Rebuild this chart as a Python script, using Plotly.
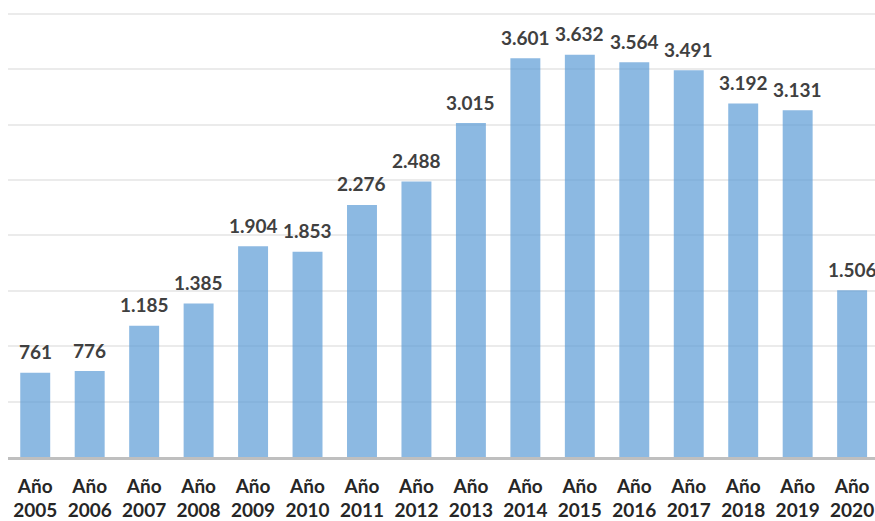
import plotly.graph_objects as go

years = ["2005", "2006", "2007", "2008", "2009", "2010", "2011", "2012",
         "2013", "2014", "2015", "2016", "2017", "2018", "2019", "2020"]
values = [761, 776, 1185, 1385, 1904, 1853, 2276, 2488,
          3015, 3601, 3632, 3564, 3491, 3192, 3131, 1506]
value_labels = ["761", "776", "1.185", "1.385", "1.904", "1.853", "2.276", "2.488",
                "3.015", "3.601", "3.632", "3.564", "3.491", "3.192", "3.131", "1.506"]
tick_labels = ["Año<br>" + y for y in years]

x_idx = list(range(len(years)))

fig = go.Figure()
fig.add_trace(go.Bar(
    x=x_idx, y=values,
    width=0.55,
    marker=dict(color="rgba(91,155,213,0.7)", line=dict(width=0)),
    hoverinfo="skip",
))

for xi, v, lab in zip(x_idx, values, value_labels):
    fig.add_annotation(x=xi, y=v, text=lab, showarrow=False,
                       yanchor="middle", yshift=21,
                       font=dict(family="Lato", size=19, color="#404040", weight="bold"))

fig.update_layout(
    width=875, height=521,
    margin=dict(l=8, r=0, t=10, b=62),
    paper_bgcolor="white", plot_bgcolor="white",
    showlegend=False,
    font=dict(family="Lato"),
    xaxis=dict(
        range=[-0.5, 15.42],
        tickmode="array", tickvals=x_idx, ticktext=tick_labels,
        tickfont=dict(family="Lato", size=19, color="#262626", weight="bold"),
        showgrid=False, zeroline=False,
        showline=True, linecolor="#BFBFBF", linewidth=2.5,
        ticks="", ticklabelstandoff=10, ticklabeloverflow="allow",
    ),
    yaxis=dict(
        range=[0, 4036], tick0=0, dtick=500,
        showgrid=True, gridcolor="#EBEBEB", gridwidth=1.5,
        showticklabels=False, zeroline=False, ticks="",
    ),
)

fig.write_html("out.html", config={"displayModeBar": False},
               post_script="document.body.style.margin='0';")
